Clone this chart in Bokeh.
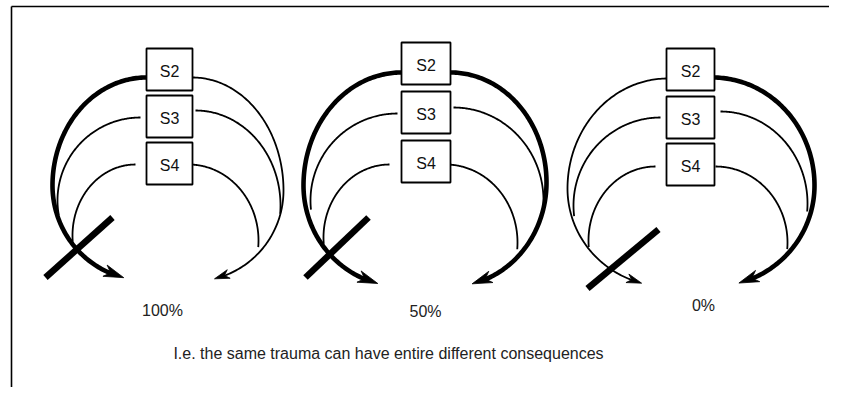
import numpy as np
from bokeh.plotting import figure
from bokeh.models import Range1d
from bokeh.embed import file_html
from bokeh.resources import INLINE
from bokeh.core.properties import value

# ---------------- data (screen-like coordinates, y grows downward) ----------------
box_labels = ["S2", "S3", "S4"]
box_left = [146, 401, 666]
box_right = [192, 450, 714]
box_top_p1 = [48, 95, 142]
box_top_p2 = [42, 91, 140]
box_top_p3 = [48, 96, 143]
box_height = 42

percent_labels = ["100%", "50%", "0%"]
percent_x = [162, 425, 703]
percent_y = [310, 311, 305]

caption = "I.e. the same trauma can have entire different consequences"

# arcs: (cx, cy, rx, ry_upper, ry_lower, start_deg, end_deg)
p1_L2 = (146, 185, 94, 108, 95, 90, 256)
p1_R2 = (192, 190, 91, 113, 91, 90, -76)
p1_L3 = (140, 200, 83, 83, 83, 90, 190)
p1_R3 = (195, 205, 85, 95, 95, 90, -5)
p1_L4 = (135, 235, 63, 71, 71, 90, 185)
p1_R4 = (188, 240, 70, 76, 76, 90, -5)
p1_cross = [(45, 277), (112, 217)]

p2_L2 = (401, 185, 98, 113, 101, 90, 256)
p2_R2 = (450, 182, 96, 110, 104, 90, -77)
p2_L3 = (397, 200, 87, 87, 87, 90, 186)
p2_R3 = (453, 200, 90, 93, 93, 90, -5)
p2_L4 = (389, 237, 66, 73, 73, 90, 185)
p2_R4 = (445, 242, 72, 78, 78, 90, -5)
p2_cross = [(305, 277), (368, 217)]

p3_L2 = (667, 188, 100, 110, 98, 90, 255)
p3_R2 = (712, 185, 102, 108, 101, 90, -75)
p3_L3 = (660, 205, 87, 88, 88, 90, 187)
p3_R3 = (720, 203, 87, 92, 92, 90, -5)
p3_L4 = (655, 240, 67, 74, 74, 90, 185)
p3_R4 = (715, 242, 72, 76, 76, 90, -5)
p3_cross = [(587, 288), (658, 229)]

# which S2 arcs are the heavy ones
heavy_L2 = [True, True, False]
heavy_R2 = [False, True, True]

# ---------------- figure ----------------
p = figure(width=829, height=387, output_backend="svg", toolbar_location=None,
           x_range=Range1d(0, 829), y_range=Range1d(387, 0), min_border=0,
           outline_line_color=None, background_fill_color="white")
p.axis.visible = False
p.grid.visible = False


def ellipse_arc(spec, n=160):
    cx, cy, rx, ryu, ryl, t0, t1 = spec
    t = np.radians(np.linspace(t0, t1, n))
    s = np.sin(t)
    ry = np.where(s >= 0, ryu, ryl)
    return np.column_stack([cx + rx * np.cos(t), cy - ry * s])


def draw_arc(spec, heavy, arrow):
    C = ellipse_arc(spec)
    lw = 4.6 if heavy else 1.8
    if arrow:
        L = 20.0 if heavy else 15.0
        w = 6.0 if heavy else 4.5
        seg = np.sqrt((np.diff(C, axis=0) ** 2).sum(axis=1))
        from_end = np.concatenate([np.cumsum(seg[::-1])[::-1], [0.0]])
        tip = C[-1]
        idx = np.argmin(np.abs(from_end - L))
        back = C[idx]
        d = (tip - back) / np.linalg.norm(tip - back)
        nrm = np.array([-d[1], d[0]])
        base = tip - L * d
        notch = tip - 0.7 * L * d
        hx = [tip[0], base[0] + w * nrm[0], notch[0], base[0] - w * nrm[0]]
        hy = [tip[1], base[1] + w * nrm[1], notch[1], base[1] - w * nrm[1]]
        C = C[from_end > 0.55 * L]
        p.patch(hx, hy, fill_color="black", line_color="black", line_width=0.8)
    p.line(C[:, 0], C[:, 1], line_color="black", line_width=lw, line_join="round", line_cap="butt")


panels = [
    (p1_L2, p1_R2, p1_L3, p1_R3, p1_L4, p1_R4, p1_cross, box_top_p1),
    (p2_L2, p2_R2, p2_L3, p2_R3, p2_L4, p2_R4, p2_cross, box_top_p2),
    (p3_L2, p3_R2, p3_L3, p3_R3, p3_L4, p3_R4, p3_cross, box_top_p3),
]

for k, (L2, R2, L3, R3, L4, R4, cross, tops) in enumerate(panels):
    draw_arc(L2, heavy_L2[k], True)
    draw_arc(R2, heavy_R2[k], True)
    for a in (L3, R3, L4, R4):
        draw_arc(a, False, False)
    cx = [c[0] for c in cross]
    cy = [c[1] for c in cross]
    p.line(cx, cy, line_color="black", line_width=6.5, line_cap="butt")
    left = [box_left[k]] * 3
    right = [box_right[k]] * 3
    top = list(tops)
    bottom = [t + box_height for t in tops]
    p.quad(left=left, right=right, top=top, bottom=bottom, fill_color="white",
           line_color="black", line_width=1.8)
    xm = [(box_left[k] + box_right[k]) / 2] * 3
    ym = [t + box_height / 2 + 2 for t in tops]
    p.text(x=xm, y=ym, text=box_labels, text_font=value("Liberation Sans"),
           text_font_size="16px", text_color="#111111", text_align="center",
           text_baseline="middle")

p.text(x=percent_x, y=percent_y, text=percent_labels, text_font=value("Liberation Sans"),
       text_font_size="16px", text_color="#222222", text_align="center", text_baseline="middle")
p.text(x=[388], y=[353], text=[caption], text_font=value("Liberation Sans"),
       text_font_size="16px", text_color="#222222", text_align="center", text_baseline="middle")

# frame lines (top and left)
p.line([11, 829], [6, 6], line_color="black", line_width=1.6)
p.line([11, 11], [6, 387], line_color="black", line_width=1.6)

open("out.html", "w").write(file_html(p, INLINE))
